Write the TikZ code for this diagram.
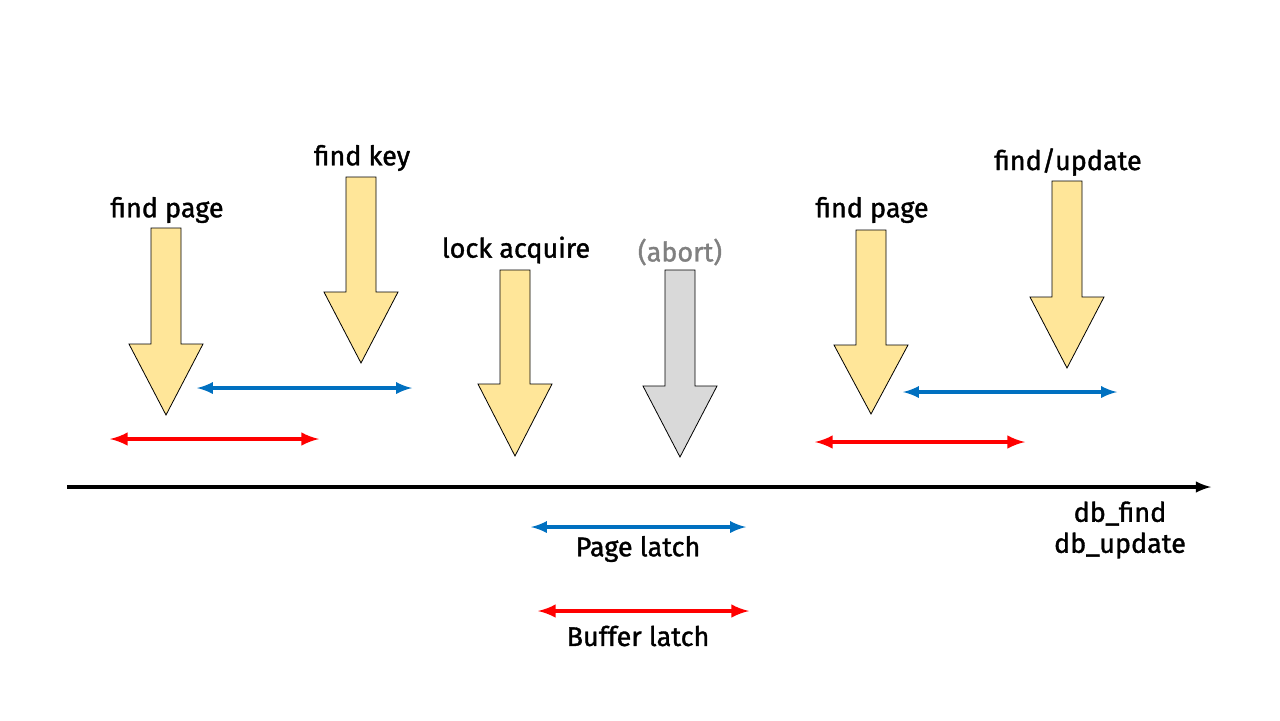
\documentclass[tikz,border=0pt]{standalone}
\usepackage{fontspec}
\setmainfont{Fira Sans}[BoldFont=Fira Sans, BoldFeatures={FakeBold=1.3}]
\usetikzlibrary{arrows,positioning}
\definecolor{stepyellow}{HTML}{FFE699}
\definecolor{abortgray}{HTML}{D9D9D9}
\definecolor{latchblue}{HTML}{0070C0}
\definecolor{latchred}{HTML}{FF0000}
% down block arrow: x centre, shaft top, head start, tip, fill colour
\newcommand{\dnarrow}[5]{%
  \draw[fill=#5, line width=.4pt] (#1-15,#2) -- (#1+15,#2) -- (#1+15,#3) -- (#1+37,#3)
    -- (#1,#4) -- (#1-37,#3) -- (#1-15,#3) -- cycle;}
\begin{document}
\begin{tikzpicture}[x=0.5pt,y=-0.5pt,
    lbl/.style={font=\fontsize{13.5}{15.5}\selectfont\bfseries, inner sep=0pt},
    pagelatch/.style={<->,>=latex,draw=latchblue,line width=1.7pt},
    bufflatch/.style={<->,>=latex,draw=latchred,line width=2pt}]
        \useasboundingbox (0,0) rectangle (1280,720);
        % time axis
        \coordinate (t0) at (67,487);
        \coordinate (t1) at (1211,487);
        \draw[->,>=latex,line width=1.6pt] (t0) -- (t1);
        \node[lbl,align=center] (api) at (1120,530) {db\_find\\db\_update};
        % first call
        \dnarrow{166}{228}{344}{415}{stepyellow}
        \node[lbl] (fp1) at (167,210) {find page};
        \dnarrow{361}{177}{292}{363}{stepyellow}
        \node[lbl] (fk) at (362,158) {find key};
        \dnarrow{515}{270}{384}{456}{stepyellow}
        \node[lbl] (lock) at (516,250) {lock acquire};
        \dnarrow{680}{270}{386}{457}{abortgray}
        \node[lbl,text=gray] (abort) at (680,252) {(abort)};
        % retry
        \dnarrow{871}{230}{345}{414}{stepyellow}
        \node[lbl] (fp2) at (872,210) {find page};
        \dnarrow{1067}{181}{297}{368}{stepyellow}
        \node[lbl] (fu) at (1068,162) {find/update};
        % latches held
        \coordinate (pa) at (197,388);
        \coordinate (pb) at (412,388);
        \draw[pagelatch] (pa) -- (pb);
        \coordinate (ba) at (110,439);
        \coordinate (bb) at (319,439);
        \draw[bufflatch] (ba) -- (bb);
        \coordinate (pc) at (903,392);
        \coordinate (pd) at (1117,392);
        \draw[pagelatch] (pc) -- (pd);
        \coordinate (bc) at (815,442);
        \coordinate (bd) at (1025,442);
        \draw[bufflatch] (bc) -- (bd);
        % legend
        \coordinate (lp1) at (531,527);
        \coordinate (lp2) at (746,527);
        \draw[pagelatch] (lp1) -- (lp2);
        \node[lbl] (pl) at (638,549) {Page latch};
        \coordinate (lb1) at (538,611);
        \coordinate (lb2) at (749,611);
        \draw[bufflatch] (lb1) -- (lb2);
        \node[lbl] (bl) at (638,636) {Buffer latch};
\end{tikzpicture}
\end{document}
